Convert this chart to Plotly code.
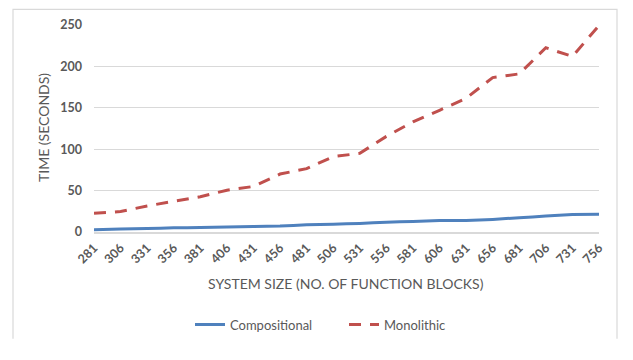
import plotly.graph_objects as go

sizes = ["281", "306", "331", "356", "381", "406", "431", "456", "481", "506",
         "531", "556", "581", "606", "631", "656", "681", "706", "731", "756"]
compositional = [2.8, 3.5, 4.3, 5.0, 5.5, 6.0, 6.6, 7.2, 8.8, 9.5,
                 10.3, 11.8, 12.8, 13.8, 14.0, 15.2, 17.2, 19.3, 21.0, 21.4]
monolithic = [22.5, 24.7, 31.5, 37.0, 42.5, 50.5, 55.0, 70.0, 76.5, 91.0,
              95.0, 115.5, 133.0, 147.0, 161.5, 186.5, 191.0, 222.5, 212.0, 249.5]

FONT = "Lato"
GREY = "#595959"

W, H = 617, 344          # page body adds an 8px margin -> 633x360 page
L, R, T, B = 86, 26, 17, 110
PW, PH = W - L - R, H - T - B


def px(x):   # figure pixel -> paper x
    return (x - L) / PW


def py(y):   # figure pixel -> paper y
    return (H - B - y) / PH


fig = go.Figure()
fig.add_trace(go.Scatter(x=sizes, y=compositional, name="Compositional", mode="lines",
                         line=dict(color="#4f81bd", width=3, shape="spline", smoothing=0.3)))
fig.add_trace(go.Scatter(x=sizes, y=monolithic, name="Monolithic", mode="lines",
                         line=dict(color="#c0504d", width=3, dash="12px,9px")))

border = "M {a},{b} L {a},{c} L {d},{c} L {d},{b}".format(
    a=px(5), b=py(H + 2), c=py(0.6), d=px(609))

fig.update_layout(
    width=W, height=H,
    margin=dict(l=L, r=R, t=T, b=B),
    plot_bgcolor="white", paper_bgcolor="white",
    font=dict(family=FONT, color=GREY, size=12),
    showlegend=True,
    legend=dict(orientation="h", x=px(182), y=py(331), xanchor="left", yanchor="middle",
                font=dict(size=13, color=GREY), itemwidth=30, tracegroupgap=0,
                entrywidth=109, entrywidthmode="pixels"),
    xaxis=dict(type="category", tickangle=-45, showgrid=False, showline=True,
               linecolor="#d9d9d9", linewidth=1.5, ticks="", automargin=False,
               ticklabelstandoff=2,
               tickfont=dict(size=12.5, color=GREY, weight="bold"), fixedrange=True),
    yaxis=dict(range=[0, 250], dtick=50, showgrid=True, gridcolor="#d9d9d9", gridwidth=1,
               zeroline=False, showline=False, ticks="", ticklabelstandoff=11,
               automargin=False,
               tickfont=dict(size=12.5, color=GREY, weight="bold")),
    shapes=[dict(type="path", xref="paper", yref="paper", path=border,
                 line=dict(color="#d9d9d9", width=1.2), layer="below")],
    annotations=[
        dict(text="SYSTEM SIZE (NO. OF FUNCTION BLOCKS)", xref="paper", yref="paper",
             x=px(338), y=py(288), xanchor="center", yanchor="middle",
             showarrow=False, font=dict(size=14, color=GREY)),
        dict(text="TIME (SECONDS)", xref="paper", yref="paper",
             x=px(35), y=py(125), xanchor="center", yanchor="middle",
             textangle=-90, showarrow=False, font=dict(size=14, color=GREY)),
    ],
)

fig.write_html("out.html")
